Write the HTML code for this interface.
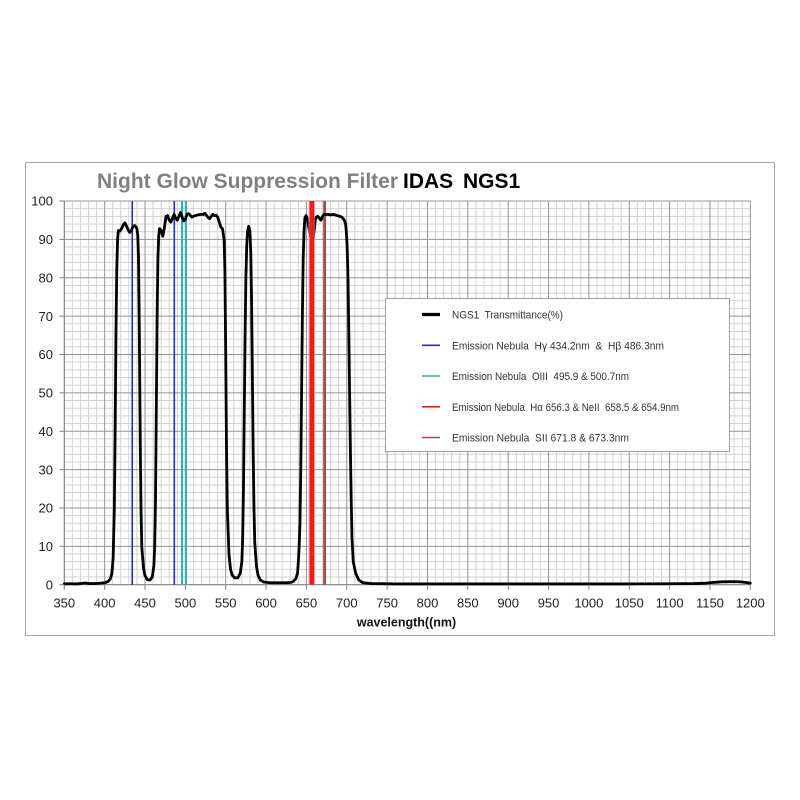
<!DOCTYPE html>
<html>
<head>
<meta charset="utf-8">
<style>
html,body{margin:0;padding:0;background:#fff;}
svg{display:block;}
text{font-family:"Liberation Sans",Arial,sans-serif;}
.pre{white-space:pre;}
</style>
</head>
<body>
<svg width="800" height="800" viewBox="0 0 800 800" xmlns="http://www.w3.org/2000/svg">
<rect x="0" y="0" width="800" height="800" fill="#fff"/>
<rect x="25.5" y="162.5" width="749" height="473" fill="#fff" stroke="#a6a6a6" stroke-width="1"/>

<!-- Title -->
<text x="97" y="188" font-size="21" font-weight="bold" fill="#808080">Night Glow Suppression Filter</text>
<text x="403" y="188" font-size="21" font-weight="bold" fill="#000">IDAS</text>
<text x="463" y="188" font-size="21" font-weight="bold" fill="#000">NGS1</text>

<!-- data-coordinate group -->
<g transform="translate(-218.17,584.7) scale(0.80706,-3.837)" fill="none">
  <!-- minor grid -->
  <path vector-effect="non-scaling-stroke" stroke="#d2d2d2" stroke-width="1" d="
  M360 0V100M370 0V100M380 0V100M390 0V100
  M410 0V100M420 0V100M430 0V100M440 0V100
  M460 0V100M470 0V100M480 0V100M490 0V100
  M510 0V100M520 0V100M530 0V100M540 0V100
  M560 0V100M570 0V100M580 0V100M590 0V100
  M610 0V100M620 0V100M630 0V100M640 0V100
  M660 0V100M670 0V100M680 0V100M690 0V100
  M710 0V100M720 0V100M730 0V100M740 0V100
  M760 0V100M770 0V100M780 0V100M790 0V100
  M810 0V100M820 0V100M830 0V100M840 0V100
  M860 0V100M870 0V100M880 0V100M890 0V100
  M910 0V100M920 0V100M930 0V100M940 0V100
  M960 0V100M970 0V100M980 0V100M990 0V100
  M1010 0V100M1020 0V100M1030 0V100M1040 0V100
  M1060 0V100M1070 0V100M1080 0V100M1090 0V100
  M1110 0V100M1120 0V100M1130 0V100M1140 0V100
  M1160 0V100M1170 0V100M1180 0V100M1190 0V100
  M350 2H1200M350 4H1200M350 6H1200M350 8H1200
  M350 12H1200M350 14H1200M350 16H1200M350 18H1200
  M350 22H1200M350 24H1200M350 26H1200M350 28H1200
  M350 32H1200M350 34H1200M350 36H1200M350 38H1200
  M350 42H1200M350 44H1200M350 46H1200M350 48H1200
  M350 52H1200M350 54H1200M350 56H1200M350 58H1200
  M350 62H1200M350 64H1200M350 66H1200M350 68H1200
  M350 72H1200M350 74H1200M350 76H1200M350 78H1200
  M350 82H1200M350 84H1200M350 86H1200M350 88H1200
  M350 92H1200M350 94H1200M350 96H1200M350 98H1200"/>
  <!-- major grid -->
  <path vector-effect="non-scaling-stroke" stroke="#949494" stroke-width="1" d="
  M400 0V100M450 0V100M500 0V100M550 0V100M600 0V100M650 0V100M700 0V100M750 0V100
  M800 0V100M850 0V100M900 0V100M950 0V100M1000 0V100M1050 0V100M1100 0V100M1150 0V100M1200 0V100
  M350 10H1200M350 20H1200M350 30H1200M350 40H1200M350 50H1200M350 60H1200M350 70H1200M350 80H1200M350 90H1200M350 100H1200"/>
  <!-- axes -->
  <path vector-effect="non-scaling-stroke" stroke="#808080" stroke-width="1.2" d="M350 0V100M350 0H1200"/>

  <!-- emission lines -->
  <path vector-effect="non-scaling-stroke" stroke="#2a2ac4" stroke-width="1.6" d="M434.2 0V100M486.3 0V100"/>
  <path vector-effect="non-scaling-stroke" stroke="#26b2b2" stroke-width="2" d="M495.9 0V100M500.7 0V100"/>
  <path vector-effect="non-scaling-stroke" stroke="#9e4d4d" stroke-width="1.6" d="M671.8 0V100M673.3 0V100"/>

  <!-- curve -->
  <polyline vector-effect="non-scaling-stroke" stroke="#000" stroke-width="2.8" stroke-linejoin="round" stroke-linecap="round" points="
350,0.2 358,0.25 365,0.2 372,0.35 376,0.45 380,0.3 388,0.3 395,0.4 400,0.5 404,0.8 407,1.5 409,3 410.5,7 412,20 413,40 414,65 415,82 416,90 417,92.3 419,92.2 421,92.8 423,93.8 425,94.3 427,93.5 429,92.5 431,91.8 433,92.3 435,93.3 437,93.6 439,93.2 440,92.8 441,91 442,85 443,65 444,40 445,20 446,10 448,4.5 450,2.3 453,1.3 456,1.2 459,2 461,5 462,10 463,22 464,45 465,70 466,85 467,91 468,92.8 470,92.3 472,90.8 474,93 476,96 478,96.2 480,95 482,94.5 484,95.5 486,96.5 488,95.5 490,95 492,96 494,97 496,95.8 498,94.8 500,95.3 502,96.5 504,96.7 506,96.3 508,95.8 510,96 514,96.3 518,96.5 522,96.5 524,96.8 526,96.3 528,95.7 530,95.4 532,96 534,96.5 536,96.2 538,96.3 540,95.8 542,94.5 544,93.2 546,92.8 548,90 549,82 550,60 551,35 552,20 554,8 556,4 558,2.5 561,1.8 565,1.8 568,3 570,6 571,12 572,25 573,45 574,65 575,80 576,88 577,92 578.5,93.4 580,92 581,87 582,75 583,55 584,35 585,20 586,11 588,5 590,2.5 593,1.2 597,0.7 605,0.5 615,0.5 625,0.5 631,0.6 634,0.9 637,1.6 639,3 640,6 641,10 642,16 643,30 644,50 645,70 646,85 647,92 648,95.5 649.5,96.2 651,95.5 653,93 655,91 657,89.5 658.5,90.5 660,93 661,95 662,95.8 664,96 666,95.5 668,95 670,96 672,96.5 676,96.5 680,96.4 684,96.5 688,96.2 692,96 695,95.6 697,95 698.5,94 699.5,92 700.5,88 701.5,80 702.5,66 703.5,50 704.5,35 705.5,22 706.5,12 708,6 711,3 715,1.2 720,0.5 730,0.3 760,0.2 800,0.2 850,0.2 900,0.2 950,0.2 1000,0.2 1050,0.2 1100,0.25 1130,0.3 1145,0.4 1155,0.6 1165,0.75 1180,0.8 1190,0.7 1197,0.5 1200,0.4"/>

  <!-- H-alpha / NII band (on top) -->
  <rect x="652.3" y="0" width="8.2" height="100" fill="#f4a8a8" opacity="0.6"/>
  <path vector-effect="non-scaling-stroke" stroke="#ee1c1c" stroke-width="1.8" d="M654.9 0V100M656.3 0V100M658.5 0V100"/>
</g>

<!-- ticks -->
<path stroke="#808080" stroke-width="1" fill="none" d="
M64.3 584.7v5M104.65 584.7v5M145 584.7v5M185.36 584.7v5M225.71 584.7v5M266.07 584.7v5M306.42 584.7v5M346.77 584.7v5M387.12 584.7v5
M427.48 584.7v5M467.83 584.7v5M508.19 584.7v5M548.54 584.7v5M588.89 584.7v5M629.24 584.7v5M669.6 584.7v5M709.95 584.7v5M750.3 584.7v5
M59.3 584.7h5M59.3 546.3h5M59.3 507.96h5M59.3 469.6h5M59.3 431.2h5M59.3 392.85h5M59.3 354.5h5M59.3 316.1h5M59.3 277.7h5M59.3 239.4h5M59.3 201h5"/>

<!-- y labels -->
<g font-size="13" fill="#222" text-anchor="end">
<text x="53" y="589.4">0</text>
<text x="53" y="551">10</text>
<text x="53" y="512.6">20</text>
<text x="53" y="474.3">30</text>
<text x="53" y="435.9">40</text>
<text x="53" y="397.5">50</text>
<text x="53" y="359.2">60</text>
<text x="53" y="320.8">70</text>
<text x="53" y="282.4">80</text>
<text x="53" y="244.1">90</text>
<text x="53" y="205.7">100</text>
</g>

<!-- x labels -->
<g font-size="13" fill="#222" text-anchor="middle">
<text x="64.3" y="607.5">350</text>
<text x="104.65" y="607.5">400</text>
<text x="145" y="607.5">450</text>
<text x="185.36" y="607.5">500</text>
<text x="225.71" y="607.5">550</text>
<text x="266.07" y="607.5">600</text>
<text x="306.42" y="607.5">650</text>
<text x="346.77" y="607.5">700</text>
<text x="387.12" y="607.5">750</text>
<text x="427.48" y="607.5">800</text>
<text x="467.83" y="607.5">850</text>
<text x="508.19" y="607.5">900</text>
<text x="548.54" y="607.5">950</text>
<text x="588.89" y="607.5">1000</text>
<text x="629.24" y="607.5">1050</text>
<text x="669.6" y="607.5">1100</text>
<text x="709.95" y="607.5">1150</text>
<text x="750.3" y="607.5">1200</text>
</g>
<text x="406.5" y="626.5" font-size="12.5" font-weight="bold" fill="#111" text-anchor="middle">wavelength((nm)</text>

<!-- legend -->
<rect x="385.5" y="298.5" width="344" height="153" fill="#fff" stroke="#a0a0a0" stroke-width="1"/>
<path stroke="#000" stroke-width="3.2" d="M422 314.5H440"/>
<path stroke="#2a2ac4" stroke-width="1.6" d="M422 345.3H440"/>
<path stroke="#26b2b2" stroke-width="1.6" d="M422 376H440"/>
<path stroke="#ee1c1c" stroke-width="1.6" d="M422 406.8H440"/>
<path stroke="#9e4d4d" stroke-width="1.6" d="M422 437.5H440"/>
<g font-size="11" fill="#333">
<text class="pre" x="452" y="318.5" textLength="111" lengthAdjust="spacingAndGlyphs">NGS1  Transmittance(%)</text>
<text class="pre" x="452" y="349.3" textLength="212" lengthAdjust="spacingAndGlyphs">Emission Nebula  Hγ 434.2nm  &amp;  Hβ 486.3nm</text>
<text class="pre" x="452" y="380" textLength="177" lengthAdjust="spacingAndGlyphs">Emission Nebula  OIII  495.9 &amp; 500.7nm</text>
<text class="pre" x="452" y="410.8" textLength="227" lengthAdjust="spacingAndGlyphs">Emission Nebula  Hα 656.3 &amp; NeII  658.5 &amp; 654.9nm</text>
<text class="pre" x="452" y="441.5" textLength="177" lengthAdjust="spacingAndGlyphs">Emission Nebula  SII 671.8 &amp; 673.3nm</text>
</g>
</svg>
</body>
</html>
